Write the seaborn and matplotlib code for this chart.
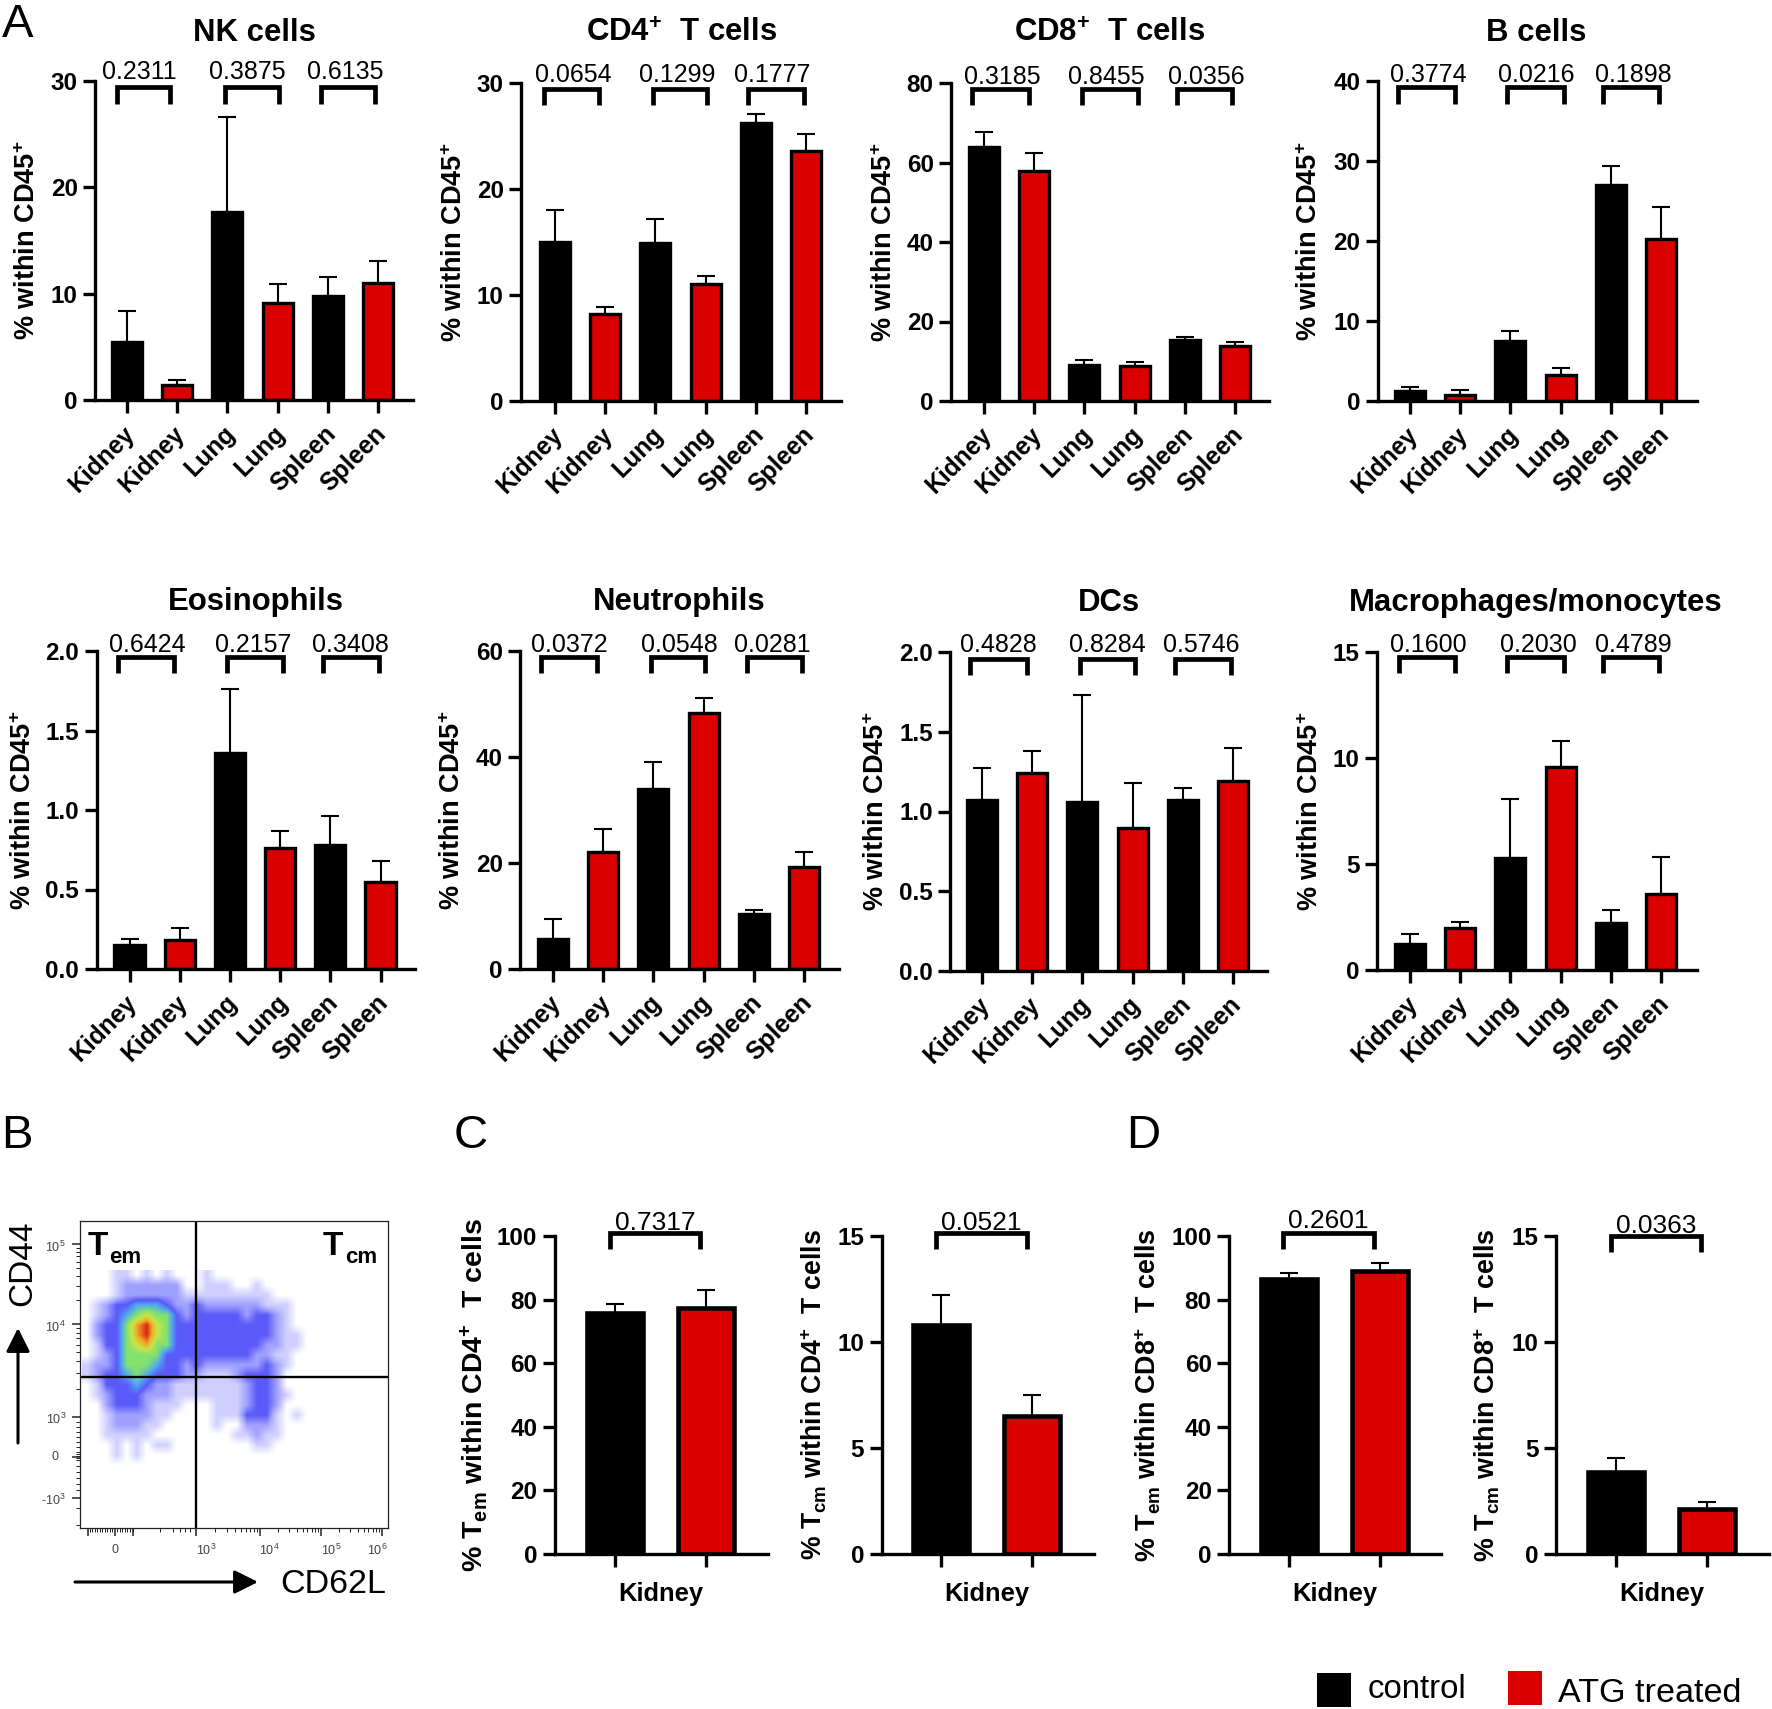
import numpy as np
import pandas as pd
import matplotlib
matplotlib.use("Agg")
import matplotlib.pyplot as plt
from matplotlib.colors import LinearSegmentedColormap
from matplotlib.patches import Rectangle
from matplotlib.transforms import ScaledTranslation
import seaborn as sns

# ---------- data ----------
tissues = ["Kidney", "Kidney", "Lung", "Lung", "Spleen", "Spleen"]
groups = ["control", "ATG treated", "control", "ATG treated", "control", "ATG treated"]

nk_mean = [5.6, 1.6, 17.8, 9.3, 9.9, 11.2]
nk_top = [8.4, 1.9, 26.6, 10.9, 11.6, 13.1]
cd4_mean = [15.2, 8.4, 15.1, 11.2, 26.4, 23.7]
cd4_top = [18.0, 8.9, 17.2, 11.8, 27.1, 25.2]
cd8_mean = [64.2, 58.2, 9.4, 9.2, 15.8, 14.2]
cd8_top = [67.7, 62.4, 10.4, 9.9, 16.2, 14.8]
b_mean = [1.4, 1.0, 7.7, 3.5, 27.2, 20.4]
b_top = [1.7, 1.4, 8.8, 4.1, 29.4, 24.2]
eos_mean = [0.16, 0.19, 1.37, 0.77, 0.79, 0.56]
eos_top = [0.19, 0.26, 1.76, 0.87, 0.96, 0.68]
neu_mean = [5.9, 22.4, 34.2, 48.6, 10.7, 19.5]
neu_top = [9.5, 26.4, 39.1, 51.2, 11.1, 22.1]
dc_mean = [1.08, 1.25, 1.07, 0.91, 1.08, 1.20]
dc_top = [1.27, 1.38, 1.73, 1.18, 1.15, 1.40]
mac_mean = [1.3, 2.05, 5.35, 9.65, 2.3, 3.65]
mac_top = [1.7, 2.25, 8.05, 10.8, 2.85, 5.35]

cd4tem_mean = [76.5, 78.2]
cd4tem_top = [78.6, 82.9]
cd4tcm_mean = [10.9, 6.6]
cd4tcm_top = [12.2, 7.5]
cd8tem_mean = [87.2, 89.7]
cd8tem_top = [88.5, 91.6]
cd8tcm_mean = [3.98, 2.24]
cd8tcm_top = [4.53, 2.45]

# flow plot: density level read per 10 px cell of the reference (0 empty .. 8 peak)
flow_density = [
    [0,0,0,1,1,0,1,0,1,0,0,0,1,0,0,0,0,0,0,0,0,0,0],
    [0,0,0,1,2,2,2,2,2,2,0,0,1,1,1,0,0,1,0,0,0,0,0],
    [0,0,0,1,2,2,2,2,2,2,1,1,1,1,1,1,1,1,1,0,0,0,0],
    [0,1,2,3,3,4,4,4,3,2,2,3,2,2,2,2,2,2,1,1,1,0,0],
    [0,1,2,3,4,5,6,5,5,3,2,3,3,3,3,3,2,3,3,2,1,0,0],
    [0,2,3,3,5,7,8,6,5,3,3,3,3,3,3,3,3,3,3,2,1,0,0],
    [0,2,3,3,5,7,8,6,5,3,3,3,3,3,3,3,3,3,3,2,1,1,0],
    [0,1,3,3,5,6,7,5,5,3,3,3,3,3,3,3,3,3,2,2,1,1,0],
    [0,1,2,3,5,5,5,5,3,3,3,3,3,3,3,3,3,2,2,1,1,0,0],
    [1,2,2,3,5,5,5,4,3,3,2,3,2,2,2,2,2,2,3,2,1,0,0],
    [1,2,3,3,4,5,4,3,3,3,2,2,1,1,1,2,3,3,3,2,0,0,0],
    [0,1,3,3,3,4,3,2,2,1,1,1,1,1,1,1,2,3,3,2,0,0,0],
    [0,1,2,3,3,3,2,2,2,1,1,1,1,1,1,1,2,3,3,2,1,0,0],
    [0,0,2,3,3,3,2,1,1,1,0,0,0,1,1,1,2,3,3,2,0,0,0],
    [0,0,1,2,2,2,2,1,1,0,0,0,0,1,1,1,3,3,3,1,0,1,0],
    [0,0,1,2,2,2,1,1,0,0,0,0,0,1,0,0,2,2,2,1,0,0,0],
    [0,0,1,1,1,1,1,0,0,0,0,0,0,0,0,1,1,2,1,1,0,0,0],
    [0,0,0,1,0,1,0,1,1,0,0,0,0,0,0,0,0,1,1,0,0,0,0],
    [0,0,0,1,0,1,0,0,0,0,0,0,0,0,0,0,0,0,0,0,0,0,0],
    [0,0,0,0,0,0,0,0,0,0,0,0,0,0,0,0,0,0,0,0,0,0,0],
]

# ---------- style ----------
W, H = 1772, 1709
sns.set_theme(style="white")
plt.rcParams["font.family"] = ["Liberation Sans", "DejaVu Sans"]
plt.rcParams["mathtext.fontset"] = "custom"
plt.rcParams["mathtext.bf"] = "Liberation Sans:bold"
plt.rcParams["mathtext.rm"] = "Liberation Sans"
plt.rcParams["mathtext.it"] = "Liberation Sans:italic"
plt.rcParams["mathtext.default"] = "regular"
plt.rcParams["axes.unicode_minus"] = False

BLACK, RED = "#000000", "#DB0000"
palette = {"control": BLACK, "ATG treated": RED}

fig = plt.figure(figsize=(W / 100, H / 100), dpi=100, facecolor="white")
over = fig.add_axes([0, 0, 1, 1], zorder=10)
over.set_xlim(0, W)
over.set_ylim(H, 0)
over.axis("off")
over.patch.set_alpha(0)


def axes_px(left, top, right, bottom):
    return fig.add_axes([left / W, 1 - bottom / H, (right - left) / W, (bottom - top) / H])


def bars(spine, right, top, bottom, tick0, step, width, edge, ymax, yticks, ylabels, means, tops, names, grp):
    ax = axes_px(spine, top, right, bottom)
    # the values were read at the outer edge of each bar's outline: the outline is centred on the bar rectangle
    inset = (edge / 0.72 / 2) * ymax / (bottom - top)
    m, t = np.array(means, dtype=float), np.array(tops, dtype=float)
    df = pd.DataFrame({"bar": names, "value": m - inset, "group": grp})
    sns.barplot(data=df, x="bar", y="value", hue="group", order=names,
                hue_order=["control", "ATG treated"], palette=palette, dodge=False,
                width=width, edgecolor="black", linewidth=edge, saturation=1,
                errorbar=None, legend=False, ax=ax)
    ax.errorbar(np.arange(len(m)), m - inset, yerr=[np.zeros(len(m)), t - (m - inset)], fmt="none",
                ecolor="black", elinewidth=1.5, capsize=6.2, capthick=1.5, zorder=1)
    ax.set_xlim((spine - tick0) / step, (right - tick0) / step)
    ax.set_ylim(0, ymax)
    ax.set_yticks(yticks)
    ax.set_yticklabels(ylabels, fontsize=17.5, fontweight="bold", color="black")
    ax.set_xlabel("")
    ax.set_ylabel("")
    for s in ["top", "right"]:
        ax.spines[s].set_visible(False)
    for s in ["left", "bottom"]:
        ax.spines[s].set_linewidth(2.4)
        ax.spines[s].set_color("black")
    ax.tick_params(axis="both", length=9, width=2.4, color="black", pad=3.5,
                   left=True, bottom=True)
    ax.patch.set_alpha(0)
    return ax


def brackets(xs, ytop, ybot, lw=3.4):
    for a, b in xs:
        over.plot([a, a, b, b], [ybot, ytop, ytop, ybot], color="black", lw=lw,
                  solid_joinstyle="miter", solid_capstyle="butt")


def pvals(xs, y, vals, size=18):
    for x, v in zip(xs, vals):
        over.text(x, y, v, ha="center", va="center", fontsize=size, color="black")


CD45 = r"% within CD45$^{\mathbf{+}}$"
panels = [
    dict(title="NK cells", tx=254, ty=33, sp=95, right=413, top=81, bot=400, t0=127, m=nk_mean, e=nk_top,
         ymax=30, yt=[0, 10, 20, 30], yl=["0", "10", "20", "30"], lx=28,
         br=[(117, 170), (225, 279), (321, 375)], bt=87, bb=104,
         px=[139, 247, 345], py=72, p=["0.2311", "0.3875", "0.6135"]),
    dict(title=r"CD4$^{\mathbf{+}}$  T cells", tx=682, ty=34, sp=521, right=841, top=83, bot=401, t0=555, m=cd4_mean, e=cd4_top,
         ymax=30, yt=[0, 10, 20, 30], yl=["0", "10", "20", "30"], lx=455,
         br=[(544, 599), (653, 707), (748, 804)], bt=89, bb=105,
         px=[573, 677, 772], py=75, p=["0.0654", "0.1299", "0.1777"]),
    dict(title=r"CD8$^{\mathbf{+}}$  T cells", tx=1110, ty=34, sp=951, right=1269, top=83, bot=401, t0=984, m=cd8_mean, e=cd8_top,
         ymax=80, yt=[0, 20, 40, 60, 80], yl=["0", "20", "40", "60", "80"], lx=885,
         br=[(972, 1029), (1082, 1138), (1177, 1232)], bt=89, bb=105,
         px=[1002, 1106, 1206], py=77, p=["0.3185", "0.8455", "0.0356"]),
    dict(title="B cells", tx=1536, ty=33, sp=1377.5, right=1697, top=81, bot=401, t0=1410, m=b_mean, e=b_top,
         ymax=40, yt=[0, 10, 20, 30, 40], yl=["0", "10", "20", "30", "40"], lx=1310,
         br=[(1398, 1455), (1507, 1564), (1603, 1659)], bt=87, bb=104,
         px=[1428, 1536, 1633], py=75, p=["0.3774", "0.0216", "0.1898"]),
    dict(title="Eosinophils", tx=256, ty=602, sp=96.5, right=415, top=651, bot=969, t0=129.5, m=eos_mean, e=eos_top,
         ymax=2, yt=[0, 0.5, 1, 1.5, 2], yl=["0.0", "0.5", "1.0", "1.5", "2.0"], lx=24,
         br=[(118, 174), (227, 283), (323, 379)], bt=657, bb=673,
         px=[147, 253, 350], py=645, p=["0.6424", "0.2157", "0.3408"]),
    dict(title="Neutrophils", tx=679, ty=602, sp=520, right=839, top=651, bot=969, t0=553, m=neu_mean, e=neu_top,
         ymax=60, yt=[0, 20, 40, 60], yl=["0", "20", "40", "60"], lx=453,
         br=[(541, 597), (651, 705), (747, 802)], bt=657, bb=673,
         px=[569, 679, 772], py=645, p=["0.0372", "0.0548", "0.0281"]),
    dict(title="DCs", tx=1109, ty=603, sp=950, right=1267, top=652, bot=971, t0=982, m=dc_mean, e=dc_top,
         ymax=2, yt=[0, 0.5, 1, 1.5, 2], yl=["0.0", "0.5", "1.0", "1.5", "2.0"], lx=877,
         br=[(970.5, 1027.5), (1080, 1135), (1175, 1231)], bt=659, bb=675,
         px=[998, 1107, 1201], py=645, p=["0.4828", "0.8284", "0.5746"]),
    dict(title="Macrophages/monocytes", tx=1536, ty=603, sp=1377, right=1697, top=652, bot=970, t0=1410, m=mac_mean, e=mac_top,
         ymax=15, yt=[0, 5, 10, 15], yl=["0", "5", "10", "15"], lx=1311,
         br=[(1399, 1455), (1507, 1564), (1603, 1659)], bt=657, bb=673,
         px=[1428, 1538, 1633], py=645, p=["0.1600", "0.2030", "0.4789"]),
]

for P in panels:
    names = [f"{t} {g}" for t, g in zip(tissues, groups)]
    ax = bars(P["sp"], P["right"], P["top"], P["bot"], P["t0"], 50.2, 0.6, 2.4, P["ymax"],
              P["yt"], P["yl"], P["m"], P["e"], names, groups)
    ax.set_xticks(range(6))
    ax.set_xticklabels(tissues, rotation=45, ha="right", va="top", rotation_mode="anchor",
                       fontsize=17.8, fontweight="bold", color="black")
    shift = ScaledTranslation(-4.5 / 100, -4 / 100, fig.dpi_scale_trans)
    for lab in ax.get_xticklabels():
        lab.set_transform(lab.get_transform() + shift)
    over.text(P["tx"], P["ty"], P["title"], ha="center", va="center", fontsize=22.4, fontweight="bold", color="black")
    over.text(P["lx"], (P["top"] + P["bot"]) / 2, CD45, rotation=90, ha="center", va="center",
              fontsize=19.5, fontweight="bold", color="black")
    brackets(P["br"], P["bt"], P["bb"])
    pvals(P["px"], P["py"], P["p"])

small = [
    dict(sp=554.5, right=768, t0=615, m=cd4tem_mean, e=cd4tem_top, ymax=100, yt=[0, 20, 40, 60, 80, 100],
         yl=["0", "20", "40", "60", "80", "100"], lx=474, lsize=20.5,
         label=r"% T$_{\mathbf{em}}$ within CD4$^{\mathbf{+}}$  T cells",
         br=(610, 700), bt=1233, bb=1249, px=655, py=1223, p="0.7317", kx=661),
    dict(sp=881.5, right=1094, t0=941, m=cd4tcm_mean, e=cd4tcm_top, ymax=15, yt=[0, 5, 10, 15],
         yl=["0", "5", "10", "15"], lx=814, lsize=19.2,
         label=r"% T$_{\mathbf{cm}}$ within CD4$^{\mathbf{+}}$  T cells",
         br=(936, 1027), bt=1233, bb=1249, px=981, py=1223, p="0.0521", kx=987),
    dict(sp=1229, right=1441, t0=1289, m=cd8tem_mean, e=cd8tem_top, ymax=100, yt=[0, 20, 40, 60, 80, 100],
         yl=["0", "20", "40", "60", "80", "100"], lx=1148, lsize=19.4,
         label=r"% T$_{\mathbf{em}}$ within CD8$^{\mathbf{+}}$  T cells",
         br=(1283, 1374), bt=1233, bb=1249, px=1328, py=1221, p="0.2601", kx=1335),
    dict(sp=1556, right=1769, t0=1616, m=cd8tcm_mean, e=cd8tcm_top, ymax=15, yt=[0, 5, 10, 15],
         yl=["0", "5", "10", "15"], lx=1487, lsize=19.4,
         label=r"% T$_{\mathbf{cm}}$ within CD8$^{\mathbf{+}}$  T cells",
         br=(1611, 1701), bt=1236, bb=1252, px=1656, py=1226, p="0.0363", kx=1662),
]

for S in small:
    names = ["Kidney control", "Kidney ATG treated"]
    ax = bars(S["sp"], S["right"], 1236, 1554, S["t0"], 91, 0.61, 3.3, S["ymax"], S["yt"], S["yl"],
              S["m"], S["e"], names, ["control", "ATG treated"])
    ax.set_xticks([0, 1])
    ax.set_xticklabels(["", ""])
    over.text(S["kx"], 1594, "Kidney", ha="center", va="center", fontsize=18.4, fontweight="bold", color="black")
    over.text(S["lx"], 1395, S["label"], rotation=90, ha="center", va="center",
              fontsize=S["lsize"], fontweight="bold", color="black")
    brackets([S["br"]], S["bt"], S["bb"])
    pvals([S["px"]], S["py"], [S["p"]], size=19)

# ---------- flow cytometry panel ----------
flow_cmap = LinearSegmentedColormap.from_list("flow", [
    "#FFFFFF", "#D0D0FF", "#A0A0FF", "#5A5AF8", "#50AAF0",
    "#82E16E", "#C8E646", "#F0AA28", "#DC2814"])
fx = axes_px(80, 1221, 388, 1528)
fx.imshow(np.array(flow_density, dtype=float), cmap=flow_cmap, vmin=0, vmax=8,
          extent=(82, 312, 1470, 1270), interpolation="bilinear", aspect="auto")
fx.set_xlim(80, 388)
fx.set_ylim(1528, 1221)
fx.axvline(196, color="black", lw=1.7)
fx.axhline(1377, color="black", lw=1.7)
for s in fx.spines.values():
    s.set_visible(True)
    s.set_linewidth(0.9)
    s.set_color("#222222")
xdec = [196, 260, 321, 382]
ydec = [1417, 1324, 1244]
xminor = list(np.arange(90, 133, 2.5)) + [160, 173, 180, 185, 190]
for a, b in zip(xdec[:-1], xdec[1:]):
    xminor += [a + (b - a) * np.log10(k) for k in range(2, 10)]
yminor = list(np.arange(1452, 1462, 2)) + [1422, 1427, 1432, 1437, 1442, 1447,
                                           1466, 1472, 1478, 1484, 1490, 1508, 1525]
for a, b in zip(ydec[:-1], ydec[1:]):
    yminor += [a + (b - a) * np.log10(k) for k in range(2, 10)]
yminor += [1244 - 80 * np.log10(2)]
fx.set_xticks([88, 115, 133, 196, 260, 321, 382])
fx.set_yticks([1244, 1324, 1417, 1457, 1498])
fx.set_xticks(xminor, minor=True)
fx.set_yticks([v for v in yminor if 1221 <= v <= 1528], minor=True)
fx.set_xticklabels([])
fx.set_yticklabels([])
fx.tick_params(which="major", length=5.5, width=1.1, color="#222222", left=True, bottom=True)
fx.tick_params(which="minor", length=3, width=0.7, color="#222222", left=True, bottom=True)
fx.grid(False)

GREY = "#444444"
for x, t in [(115, "0"), (206, r"10$^{3}$"), (269, r"10$^{4}$"), (331, r"10$^{5}$"), (377, r"10$^{6}$")]:
    over.text(x, 1550, t, ha="center", va="center", fontsize=9, color=GREY)
for y, t in [(1247, r"10$^{5}$"), (1327, r"10$^{4}$"), (1419, r"10$^{3}$"), (1457, "0"), (1500, r"-10$^{3}$")]:
    over.text(66 if t != "0" else 59, y, t, ha="right", va="center", fontsize=9, color=GREY)

over.text(88, 1255, "T", fontsize=24, fontweight="bold", color="black", va="baseline")
over.text(109, 1263, "em", fontsize=16, fontweight="bold", color="black", va="baseline")
over.text(323, 1255, "T", fontsize=24, fontweight="bold", color="black", va="baseline")
over.text(345, 1263, "cm", fontsize=16, fontweight="bold", color="black", va="baseline")

over.text(23, 1263, "CD44", rotation=90, ha="center", va="center", fontsize=24, color="black")
over.text(280, 1593, "CD62L", ha="left", va="baseline", fontsize=24.5, color="black")
arrow = dict(arrowstyle="-|>,head_length=0.8,head_width=0.4", color="black", lw=2.2,
             mutation_scale=18, shrinkA=0, shrinkB=0)
over.annotate("", xy=(18, 1328), xytext=(18, 1443), arrowprops=arrow)
over.annotate("", xy=(258, 1582), xytext=(75, 1582), arrowprops=arrow)

# ---------- panel letters ----------
for x, y, t in [(2, 37, "A"), (1, 1148, "B"), (454, 1148, "C"), (1126, 1148, "D")]:
    over.text(x, y, t, fontsize=34, color="black", va="baseline", ha="left")

# ---------- legend ----------
over.add_patch(Rectangle((1317, 1673), 34, 34, facecolor=BLACK, edgecolor="none"))
over.add_patch(Rectangle((1508, 1671), 34, 34, facecolor=RED, edgecolor="none"))
over.text(1368, 1698, "control", fontsize=23.8, color="black", va="baseline")
over.text(1558, 1702, "ATG treated", fontsize=24.6, color="black", va="baseline")

fig.savefig("out.png", dpi=100, facecolor="white")
